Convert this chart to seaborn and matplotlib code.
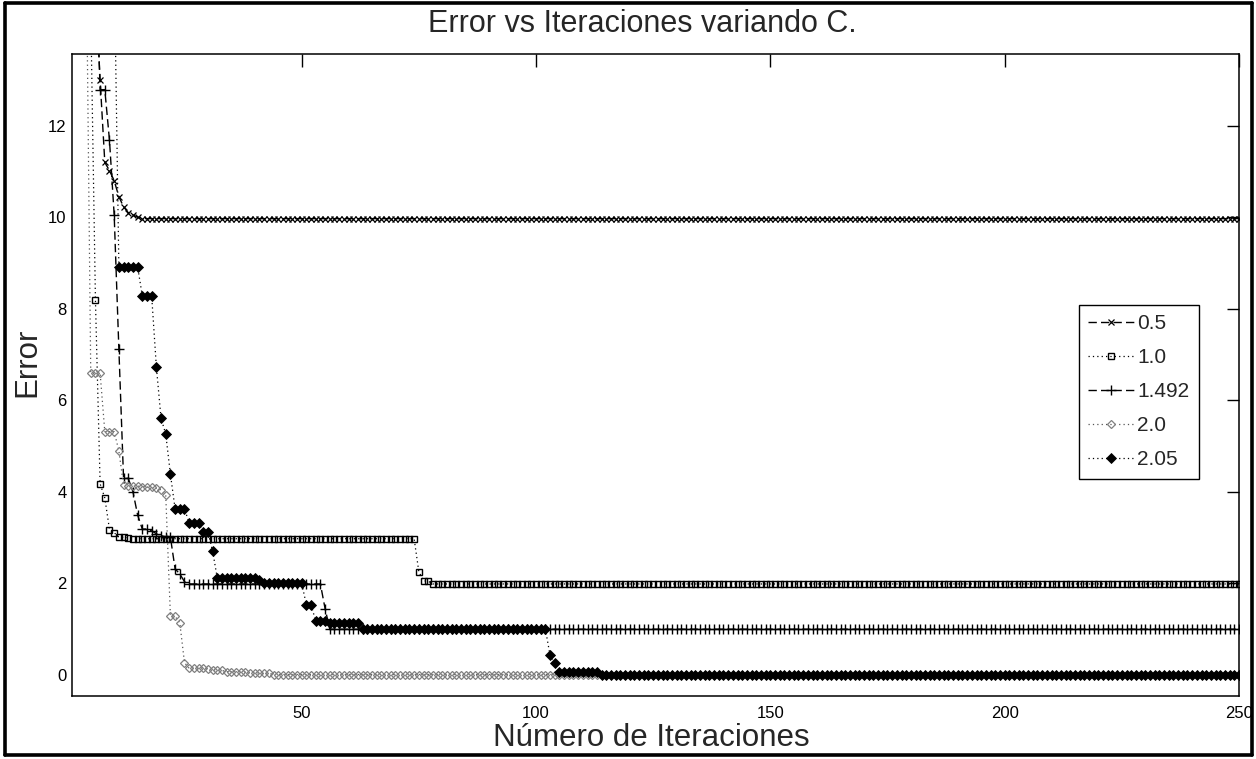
import matplotlib
matplotlib.use("Agg")
import matplotlib.pyplot as plt
import seaborn as sns
from matplotlib import font_manager
from matplotlib.lines import Line2D

# ---------------- data ----------------
iterations = list(range(1, 251))
series_labels = ["0.5", "1.0", "1.492", "2.0", "2.05"]

err_c05 = ([30, 25, 21, 18, 16, 15.0, 13.0, 11.2, 11.02, 10.8, 10.45, 10.23, 10.1, 10.05, 10.0]
           + [9.97] * 235)

err_c10 = ([30, 25, 20, 17, 14.5, 8.19, 4.17, 3.86, 3.17, 3.10, 3.01, 3.0, 2.99]
           + [2.97] * 61
           + [2.25, 2.05, 2.04]
           + [1.98] * 173)

err_c1492 = ([30, 26, 22, 19, 17, 16, 12.79, 12.79, 11.68, 10.05, 7.12, 4.29, 4.29, 4.0, 3.49,
              3.18, 3.18, 3.14, 3.08, 3.04, 3.0, 3.0, 2.31, 2.2, 2.03]
             + [1.98] * 29
             + [1.44]
             + [0.99] * 195)

err_c20 = ([30, 25, 20, 16.3, 6.59, 6.59, 6.59, 5.31, 5.31, 5.31, 4.89, 4.14, 4.13, 4.12, 4.12,
            4.11, 4.10, 4.09, 4.07, 4.04, 3.92, 1.28, 1.27, 1.13, 0.26, 0.14, 0.14, 0.14, 0.14,
            0.13, 0.10, 0.10, 0.09, 0.06, 0.06, 0.06, 0.05, 0.05, 0.04, 0.04, 0.03, 0.03, 0.03]
           + [0.0] * 207)

err_c205 = ([30, 28, 26, 24, 22, 20, 19, 18, 17, 15.6]
            + [8.92] * 5 + [8.28] * 3
            + [6.73, 5.6, 5.26, 4.38]
            + [3.62] * 3 + [3.32] * 3 + [3.12] * 2
            + [2.70]
            + [2.11] * 5 + [2.10] * 4 + [2.07]
            + [2.0] * 9
            + [1.53] * 2 + [1.17] * 3 + [1.12] * 7
            + [1.0] * 40
            + [0.42, 0.25]
            + [0.06] * 9
            + [0.0] * 137)

y_ticks = [0, 2, 4, 6, 8, 10, 12]
x_ticks = [50, 100, 150, 200, 250]

title_text = "Error vs Iteraciones variando C."
x_label = "Número de Iteraciones"
y_label = "Error"

# ---------------- styling ----------------
sns.set_style("white")
names = {f.name for f in font_manager.fontManager.ttflist}
if "Liberation Sans Narrow" in names:
    narrow_font = "Liberation Sans Narrow"
    f_title, f_label, f_tick = 25, 26, 12.5
else:
    narrow_font = "Liberation Sans"
    f_title, f_label, f_tick = 22, 22.5, 12
plt.rcParams["font.family"] = ["Liberation Sans", "DejaVu Sans"]

W, H = 1256, 759
fig = plt.figure(figsize=(W / 100, H / 100), dpi=100)
ax_l, ax_r, ax_t, ax_b = 72, 1239, 54, 696
ax = fig.add_axes([ax_l / W, 1 - ax_b / H, (ax_r - ax_l) / W, (ax_b - ax_t) / H])

dashed = (0, (6, 3))
dotted = (0, (1, 2.5))
styles = [
    dict(color="black", linestyle=dashed, linewidth=1.0, marker="x", markersize=3.8,
         markeredgewidth=0.9, markeredgecolor="black", markerfacecolor="none"),
    dict(color="black", linestyle=dotted, linewidth=0.9, marker="s", markersize=4.4,
         markeredgewidth=1.0, markeredgecolor="black", markerfacecolor="none"),
    dict(color="black", linestyle=dashed, linewidth=1.0, marker="+", markersize=6.5,
         markeredgewidth=1.0, markeredgecolor="black", markerfacecolor="none"),
    dict(color="#555555", linestyle=dotted, linewidth=0.9, marker="D", markersize=4.2,
         markeredgewidth=0.9, markeredgecolor="#808080", markerfacecolor="none"),
    dict(color="black", linestyle=dotted, linewidth=0.9, marker="D", markersize=4.6,
         markeredgewidth=0.6, markeredgecolor="black", markerfacecolor="black"),
]
all_series = [err_c05, err_c10, err_c1492, err_c20, err_c205]

for lab, vals, st in zip(series_labels, all_series, styles):
    sns.lineplot(x=iterations, y=vals, ax=ax, label=lab, estimator=None,
                 errorbar=None, sort=False, legend=False, **st)

ax.set_xlim(1, 250)
ax.set_ylim(-0.47, 13.57)
ax.set_xticks(x_ticks)
ax.set_yticks(y_ticks)
ax.tick_params(direction="in", length=9, width=1, top=True, right=True,
               labelsize=f_tick, colors="black")
ax.tick_params(axis="x", pad=7)
ax.tick_params(axis="y", pad=4)
for lbl in ax.get_xticklabels() + ax.get_yticklabels():
    lbl.set_fontfamily(narrow_font)
for sp in ax.spines.values():
    sp.set_visible(True)
    sp.set_color("black")
    sp.set_linewidth(1.1)

ax.set_title(title_text, fontsize=f_title, family=narrow_font, pad=0,
             x=(642 - ax_l) / (ax_r - ax_l), y=(ax_b - 24) / (ax_b - ax_t), va="center")
ax.set_xlabel(x_label, fontsize=f_label, family=narrow_font)
ax.xaxis.set_label_coords((651 - ax_l) / (ax_r - ax_l), (ax_b - 738) / (ax_b - ax_t))
ax.xaxis.label.set_va("center")
ax.set_ylabel(y_label, fontsize=f_label, family=narrow_font)
ax.yaxis.set_label_coords((27 - ax_l) / (ax_r - ax_l), (ax_b - 362) / (ax_b - ax_t))
ax.yaxis.label.set_va("center")

handles, hlabels = ax.get_legend_handles_labels()
leg = ax.legend(handles, hlabels, loc="upper left",
                bbox_to_anchor=((1079 - ax_l) / (ax_r - ax_l), (ax_b - 305) / (ax_b - ax_t)),
                borderaxespad=0, fontsize=15, frameon=True, fancybox=False, shadow=False,
                framealpha=1, edgecolor="black", handlelength=2.2, handletextpad=0.15,
                labelspacing=0.72, borderpad=0.45, numpoints=1)
leg.get_frame().set_linewidth(1.0)

# outer figure frame
fx0, fx1, fy0, fy1 = 5 / W, 1252 / W, 1 - 755 / H, 1 - 3 / H
for xs, ys in [([fx0, fx1], [fy0, fy0]), ([fx0, fx1], [fy1, fy1]),
               ([fx0, fx0], [fy0, fy1]), ([fx1, fx1], [fy0, fy1])]:
    fig.add_artist(Line2D(xs, ys, transform=fig.transFigure, color="black", linewidth=2.6))

fig.savefig("out.png", dpi=100, facecolor="white")
